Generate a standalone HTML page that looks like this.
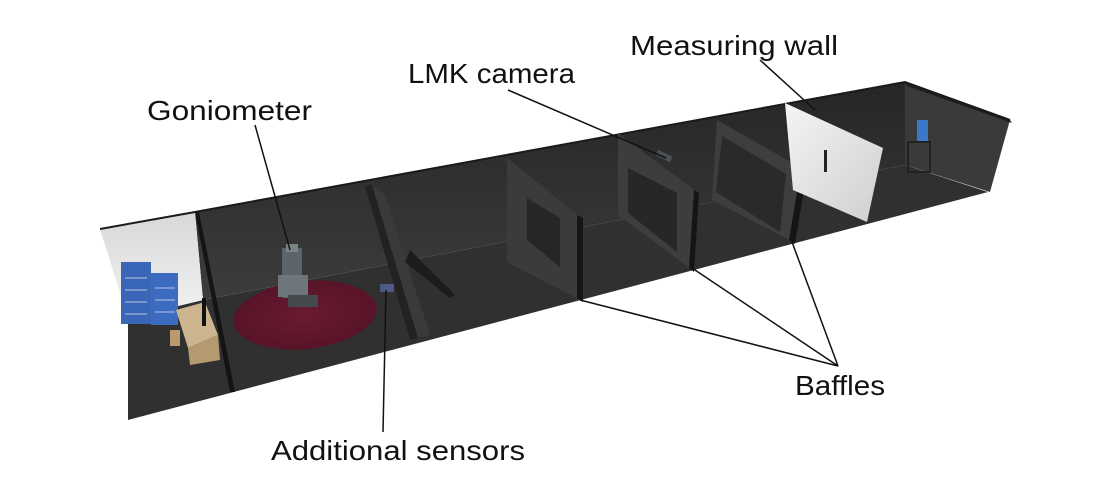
<!DOCTYPE html>
<html><head><meta charset="utf-8"><style>
html,body{margin:0;padding:0;background:#fff;width:1110px;height:500px;overflow:hidden}
svg text{font-family:"Liberation Sans",sans-serif;fill:#111}
</style></head><body>
<svg width="1110" height="500" viewBox="0 0 1110 500" xmlns="http://www.w3.org/2000/svg">
<defs>
<linearGradient id="bw" x1="0" y1="0" x2="0" y2="1"><stop offset="0" stop-color="#262626"/><stop offset="1" stop-color="#3c3c3c"/></linearGradient>
<linearGradient id="lw" x1="0" y1="0" x2="0" y2="1"><stop offset="0" stop-color="#d8d8d8"/><stop offset="1" stop-color="#f2f2f2"/></linearGradient>
<linearGradient id="mw" x1="0" y1="0" x2="1" y2="1"><stop offset="0" stop-color="#f4f4f4"/><stop offset="1" stop-color="#cfcfcf"/></linearGradient>
<radialGradient id="rug" cx="0.5" cy="0.5" r="0.5"><stop offset="0" stop-color="#6a1a32"/><stop offset="1" stop-color="#581428"/></radialGradient>
</defs>
<!-- floor -->
<polygon points="128,318 203,300 905,165 988,192 128,420" fill="#303030"/>
<!-- back wall -->
<polygon points="195,212 905,82 905,165 203,300" fill="url(#bw)"/>
<!-- right end wall -->
<polygon points="905,82 1010,120 990,192 905,165" fill="#3a3a3a"/>
<polygon points="905,82 1010,120 1012,123 907,86" fill="#1e1e1e"/>
<!-- left light wall -->
<polygon points="100,229 195,213 203,300 128,318" fill="url(#lw)"/>
<!-- top edge highlight -->
<polyline points="100,229 195,212 905,82 1010,120" fill="none" stroke="#1a1a1a" stroke-width="2"/>
<!-- partition lines -->
<polygon points="195,212 199,212 235,392 230,392" fill="#141414"/>
<polygon points="365,186 372,185 418,338 410,340" fill="#222"/>
<polygon points="372,185 385,195 430,335 418,338" fill="#3a3a3a"/>
<polygon points="410,250 455,295 450,298 405,262" fill="#1c1c1c"/>
<!-- rug -->
<ellipse cx="305" cy="315" rx="72" ry="34" fill="url(#rug)" transform="rotate(-6 305 315)"/>
<!-- goniometer -->
<rect x="282" y="248" width="20" height="50" fill="#5a646a"/>
<rect x="278" y="275" width="30" height="22" fill="#6c767c"/>
<rect x="288" y="295" width="30" height="12" fill="#444a4e"/>
<rect x="286" y="244" width="12" height="8" fill="#7a8388"/>
<!-- sensor -->
<rect x="380" y="284" width="14" height="8" fill="#4d5a86"/>
<!-- shelves -->
<rect x="121" y="262" width="30" height="62" fill="#3a66b8"/>
<rect x="151" y="273" width="27" height="52" fill="#3d6bc0"/>
<g stroke="#8fa7d8" stroke-width="1.5">
<line x1="125" y1="278" x2="147" y2="278"/><line x1="125" y1="290" x2="147" y2="290"/><line x1="125" y1="302" x2="147" y2="302"/><line x1="125" y1="314" x2="147" y2="314"/>
<line x1="155" y1="288" x2="175" y2="288"/><line x1="155" y1="300" x2="175" y2="300"/><line x1="155" y1="312" x2="175" y2="312"/>
</g>
<!-- desk -->
<polygon points="176,310 205,302 218,335 188,348" fill="#cdb58f"/>
<polygon points="188,348 218,335 220,360 190,365" fill="#b59a70"/>
<rect x="170" y="330" width="10" height="16" fill="#b89a6c"/>
<rect x="202" y="298" width="4" height="28" fill="#111"/>
<!-- baffle 1 -->
<polygon points="507,158 580,217 580,300 507,262" fill="#3b3b3b"/>
<polygon points="527,198 560,218 560,267 527,240" fill="#262626"/>
<polygon points="577,215 583,218 583,302 577,298" fill="#151515"/>
<!-- baffle 2 -->
<polygon points="618,133 697,192 692,270 618,215" fill="#3d3d3d"/>
<polygon points="628,168 677,193 677,252 628,213" fill="#272727"/>
<polygon points="694,190 699,193 694,272 689,268" fill="#151515"/>
<!-- camera -->
<rect x="656" y="153" width="16" height="6" fill="#4a5058" transform="rotate(25 664 156)"/>
<!-- baffle 3 -->
<polygon points="717,120 805,170 793,242 712,200" fill="#3e3e3e"/>
<polygon points="722,136 786,174 780,232 716,192" fill="#2a2a2a"/>
<polygon points="801,168 807,171 795,244 789,240" fill="#151515"/>
<!-- measuring wall -->
<polygon points="785,103 883,148 867,222 793,190" fill="url(#mw)"/>
<rect x="824" y="150" width="3" height="22" fill="#222"/>
<!-- last room device -->
<rect x="917" y="120" width="11" height="22" fill="#3c78c8"/>
<rect x="908" y="142" width="22" height="30" fill="none" stroke="#222" stroke-width="2"/>
<!-- leader lines -->
<g stroke="#111" stroke-width="1.5" fill="none">
<line x1="255" y1="125" x2="290" y2="250"/>
<line x1="508" y1="90" x2="666" y2="158"/>
<line x1="760" y1="60" x2="815" y2="110"/>
<line x1="383" y1="432" x2="386" y2="290"/>
<line x1="838" y1="366" x2="580" y2="300"/>
<line x1="838" y1="366" x2="692" y2="268"/>
<line x1="838" y1="366" x2="792" y2="242"/>
</g>
<!-- labels -->
<text x="147" y="120" font-size="28" textLength="165" lengthAdjust="spacingAndGlyphs">Goniometer</text>
<text x="408" y="83" font-size="28" textLength="167" lengthAdjust="spacingAndGlyphs">LMK camera</text>
<text x="630" y="55" font-size="28" textLength="208" lengthAdjust="spacingAndGlyphs">Measuring wall</text>
<text x="795" y="395" font-size="28" textLength="90" lengthAdjust="spacingAndGlyphs">Baffles</text>
<text x="271" y="460" font-size="28" textLength="254" lengthAdjust="spacingAndGlyphs">Additional sensors</text>
</svg>
</body></html>
